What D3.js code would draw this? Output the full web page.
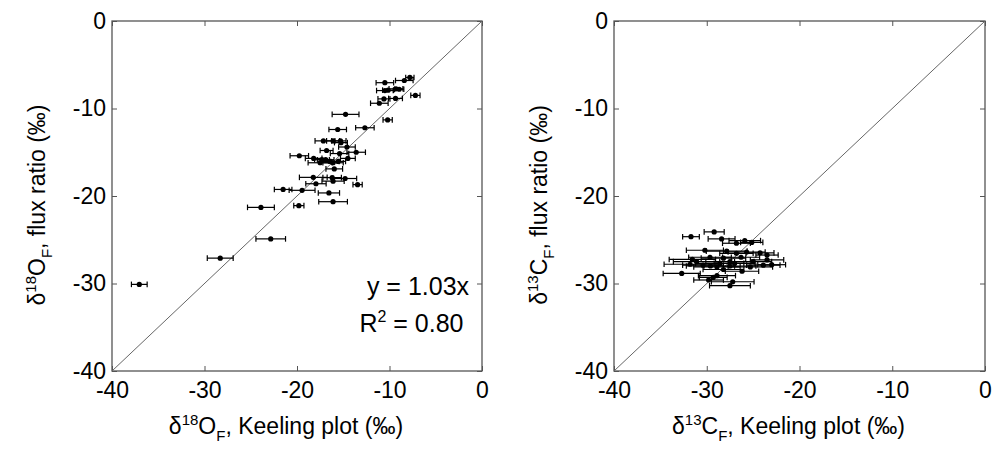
<!DOCTYPE html>
<html>
<head>
<meta charset="utf-8">
<script src="https://cdn.jsdelivr.net/npm/d3@7"></script>
<style>
  body { margin: 0; background: #fff; }
  text { font-family: "Liberation Sans", Arial, sans-serif; fill: #000; }
</style>
</head>
<body>
<div id="chart"></div>
<script>
// Data

// Panel 1: d18O
const o18Keeling = [-37.05, -28.3, -22.84, -23.9, -19.8, -16.1, -16.55, -21.5, -19.45, -13.45, -17.95, -18.24, -16.2, -16.1, -14.8, -19.75, -18.2, -17.5, -17.3, -16.9, -16.45, -16.1, -15.55, -15.97, -15.4, -14.5, -13.6, -14.6, -16.8, -17.15, -16.1, -15.3, -15.25, -15.6, -14.75, -12.66, -10.2, -11.1, -10.6, -9.35, -7.2, -10.5, -10.15, -9.3, -8.95, -10.5, -8.4, -7.8];
const o18Flux = [-30.1, -27.1, -24.9, -21.3, -21.1, -20.65, -19.65, -19.25, -19.35, -18.7, -18.6, -17.87, -17.9, -18.3, -18.0, -15.4, -15.7, -16.2, -15.85, -15.85, -16.05, -16.2, -16.05, -16.9, -15.15, -15.7, -15.0, -14.4, -14.8, -13.7, -13.7, -13.7, -13.9, -12.4, -10.67, -12.2, -11.3, -9.4, -8.9, -8.85, -8.5, -7.95, -7.9, -7.75, -7.8, -7.05, -6.8, -6.45];
const o18Err = [0.85, 1.4, 1.6, 1.45, 0.55, 1.55, 1.15, 0.95, 1.4, 0.5, 1.1, 1.5, 1.0, 1.2, 1.25, 1.0, 0.9, 1.3, 0.8, 0.9, 1.0, 1.1, 0.8, 0.9, 1.0, 0.8, 1.0, 0.9, 0.7, 0.9, 0.7, 0.6, 0.7, 0.95, 1.45, 1.0, 0.5, 0.95, 0.65, 0.75, 0.5, 0.9, 0.6, 0.75, 0.5, 0.95, 0.95, 0.45];

// Panel 2: d13C
const c13Keeling = [-31.7, -29.2, -28.4, -25.9, -25.15, -26.8, -30.2, -27.85, -26.8, -25.7, -24.25, -23.5, -31.55, -23.5, -29.65, -28.2, -27.5, -26.3, -31.8, -30.4, -28.9, -23.9, -23.0, -32.7, -29.6, -26.2, -28.2, -29.3, -29.8, -28.9, -27.2, -27.5, -25.0, -25.3, -27.5, -31.1, -28.6, -27.0];
const c13Flux = [-24.65, -24.1, -24.9, -25.1, -25.3, -25.4, -26.2, -26.3, -26.55, -26.4, -26.5, -26.75, -27.25, -27.3, -27.0, -27.1, -27.5, -27.0, -27.8, -27.9, -28.1, -27.9, -27.85, -28.85, -28.0, -28.6, -28.4, -29.3, -29.6, -29.1, -29.8, -30.25, -27.5, -28.1, -28.0, -27.5, -27.7, -27.7];
const c13Err = [0.9, 1.08, 1.45, 1.7, 1.2, 1.5, 2.0, 2.2, 1.8, 2.0, 1.5, 1.2, 2.5, 1.8, 2.3, 2.4, 2.6, 2.0, 2.8, 2.2, 2.5, 1.8, 1.5, 2.0, 2.6, 1.8, 2.2, 1.5, 1.6, 2.0, 2.3, 2.2, 2.0, 2.4, 2.8, 2.5, 2.6, 2.2];

const tickValues = [-40, -30, -20, -10, 0];
const fitLines = ["y = 1.03x", "R", "2", " = 0.80"];

// Config

const width = 997;
const height = 453;
const plotTop = 21, plotBottom = 371;
const tickLen = 5;
const boxColor = "#555";
const labelSize = 23;
const titleSize = 23;

const svg = d3.select("#chart")
  .append("svg")
  .attr("width", width)
  .attr("height", height);

const fmt = d => String(d);   // plain hyphen, like the original

function panel(left, right, xs, ys, errs, iso, elem, withFit) {
  const x = d3.scaleLinear().domain([-40, 0]).range([left, right]);
  const y = d3.scaleLinear().domain([-40, 0]).range([plotBottom, plotTop]);
  const g = svg.append("g");

  // axes (MATLAB-style box, inward ticks on all sides)
  g.append("g")
    .attr("transform", `translate(0,${plotBottom})`)
    .call(d3.axisBottom(x).tickValues(tickValues).tickFormat(fmt).tickSizeInner(-tickLen).tickSizeOuter(0).tickPadding(11))
    .call(a => a.select(".domain").remove())
    .call(a => a.selectAll("text").attr("font-size", labelSize).attr("font-family", "Liberation Sans, Arial, sans-serif"));
  g.append("g")
    .attr("transform", `translate(0,${plotTop})`)
    .call(d3.axisTop(x).tickValues(tickValues).tickSizeInner(-tickLen).tickSizeOuter(0).tickFormat(""))
    .call(a => a.select(".domain").remove());
  g.append("g")
    .attr("transform", `translate(${left},0)`)
    .call(d3.axisLeft(y).tickValues(tickValues).tickFormat(fmt).tickSizeInner(-tickLen).tickSizeOuter(0).tickPadding(6))
    .call(a => a.select(".domain").remove())
    .call(a => a.selectAll("text").attr("font-size", labelSize).attr("font-family", "Liberation Sans, Arial, sans-serif"));
  g.append("g")
    .attr("transform", `translate(${right},0)`)
    .call(d3.axisRight(y).tickValues(tickValues).tickSizeInner(-tickLen).tickSizeOuter(0).tickFormat(""))
    .call(a => a.select(".domain").remove());
  g.selectAll(".tick line").attr("stroke", boxColor);
  g.selectAll(".tick text").attr("fill", "#000");

  g.append("rect")
    .attr("x", left).attr("y", plotTop)
    .attr("width", right - left).attr("height", plotBottom - plotTop)
    .attr("fill", "none").attr("stroke", boxColor).attr("stroke-width", 1.3);

  // 1:1 line
  g.append("line")
    .attr("x1", x(-40)).attr("y1", y(-40))
    .attr("x2", x(0)).attr("y2", y(0))
    .attr("stroke", "#666").attr("stroke-width", 1);

  const data = xs.map((v, i) => ({ x: v, y: ys[i], e: errs[i] }));

  // error bars
  const eb = g.selectAll("g.eb").data(data).join("g").attr("class", "eb")
    .attr("stroke", "#000").attr("stroke-width", 1.2);
  eb.append("line")
    .attr("x1", d => x(d.x - d.e)).attr("x2", d => x(d.x + d.e))
    .attr("y1", d => y(d.y)).attr("y2", d => y(d.y));
  eb.append("line")
    .attr("x1", d => x(d.x - d.e)).attr("x2", d => x(d.x - d.e))
    .attr("y1", d => y(d.y) - 2.8).attr("y2", d => y(d.y) + 2.8);
  eb.append("line")
    .attr("x1", d => x(d.x + d.e)).attr("x2", d => x(d.x + d.e))
    .attr("y1", d => y(d.y) - 2.8).attr("y2", d => y(d.y) + 2.8);

  // dots
  g.selectAll("circle.dot").data(data).join("circle")
    .attr("class", "dot")
    .attr("cx", d => x(d.x)).attr("cy", d => y(d.y))
    .attr("r", 2.6).attr("fill", "#000");

  // x title
  const xt = g.append("text")
    .attr("x", (left + right) / 2 - 11).attr("y", 434)
    .attr("text-anchor", "middle").attr("font-size", titleSize);
  xt.append("tspan").text("δ");
  xt.append("tspan").attr("font-size", 15).attr("dy", -9).text(iso);
  xt.append("tspan").attr("dy", 9).text(elem);
  xt.append("tspan").attr("font-size", 15).attr("dy", 7).text("F");
  xt.append("tspan").attr("dy", -7).text(", Keeling plot (‰)");

  // y title
  const yt = g.append("text")
    .attr("transform", `translate(${left - 67},${(plotTop + plotBottom) / 2 + 9}) rotate(-90)`)
    .attr("text-anchor", "middle").attr("font-size", titleSize);
  yt.append("tspan").text("δ");
  yt.append("tspan").attr("font-size", 15).attr("dy", -9).text(iso);
  yt.append("tspan").attr("dy", 9).text(elem);
  yt.append("tspan").attr("font-size", 15).attr("dy", 7).text("F");
  yt.append("tspan").attr("dy", -7).text(", flux ratio (‰)");

  if (withFit) {
    g.append("text")
      .attr("x", x(-1.4)).attr("y", y(-31.3))
      .attr("text-anchor", "end").attr("font-size", 25)
      .text(fitLines[0]);
    const r = g.append("text")
      .attr("x", x(-2.0)).attr("y", y(-35.5))
      .attr("text-anchor", "end").attr("font-size", 25);
    r.append("tspan").text(fitLines[1]);
    r.append("tspan").attr("font-size", 16).attr("dy", -10).text(fitLines[2]);
    r.append("tspan").attr("dy", 10).text(fitLines[3]);
  }
}

panel(112, 482, o18Keeling, o18Flux, o18Err, "18", "O", true);
panel(614, 985, c13Keeling, c13Flux, c13Err, "13", "C", false);
</script>
</body>
</html>
